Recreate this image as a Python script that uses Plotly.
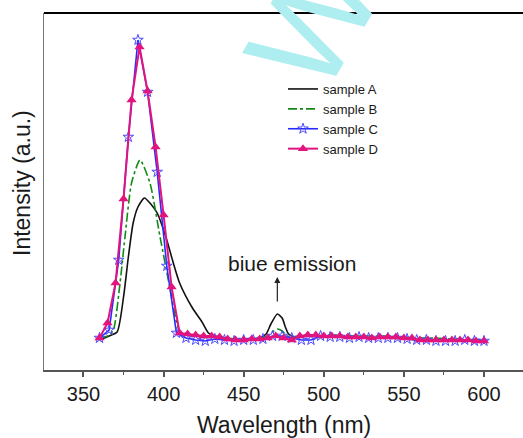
import plotly.graph_objects as go

# Emission spectra, intensity in arbitrary units
wl_a = [360, 366, 371, 375, 378, 381, 384, 388, 392, 396, 402, 405, 410, 418, 424, 428,
        432, 436, 440, 445, 450, 455, 460, 464, 467, 471, 474, 476, 478, 482, 490,
        500, 510, 520, 530, 540, 550, 560, 570, 580, 590, 600]
int_a = [30, 34, 38, 73, 113, 147, 163, 172, 166, 157, 130, 113, 87, 62, 48, 37,
         34, 33, 31, 30, 30, 31, 32, 36, 46, 56, 52, 43, 36, 33, 34,
         33, 33, 32, 32, 32, 31, 30, 30, 30, 29, 29]

wl_b = [360, 365, 368.6, 372.8, 375.9, 380, 385.3, 391.5, 397.8, 405, 408.2, 411,
        415, 420, 425, 430, 435, 440, 445, 450, 455, 460, 465, 468, 471, 474, 477,
        480, 485, 490, 495, 500, 510, 520, 530, 540, 550, 560, 570, 580, 590, 600]
int_b = [32, 34, 40, 87, 133, 187, 210, 187, 133, 73, 47, 36,
         35, 34, 34, 33, 33, 32, 31, 31, 31, 32, 34, 38, 41, 39, 34,
         33, 34, 35, 35, 35, 35, 34, 34, 34, 33, 32, 32, 31, 31, 30]

wl_c = list(range(360, 601, 6))
int_c = [32, 40, 110, 233, 330, 278, 198, 104, 37, 32, 30, 29, 31, 30, 29, 30,
         30, 31, 34, 34, 32, 30, 30, 34, 33, 33, 32, 33, 32, 32, 32, 32, 31, 30,
         30, 29, 29, 29, 30, 29, 29]

wl_d = list(range(360, 601, 5))
int_d = [32, 47, 87, 171, 270, 323, 279, 223, 155, 83, 37,
         36, 35, 34, 34, 33, 31, 30, 30, 31, 31, 32, 34, 32, 30, 34, 35, 35,
         34, 34, 34, 33, 33, 33, 32, 33, 33, 33, 32, 32, 30, 30, 30, 30, 30,
         30, 30, 29, 29]

series_names = ["sample A", "sample B", "sample C", "sample D"]
x_ticks = [350, 400, 450, 500, 550, 600]
x_minor_ticks = [375, 425, 475, 525, 575]

FONT = "Liberation Sans, Arial, sans-serif"
W, H = 523, 438
ML, MR, MT, MB = 44, 0, 13, 68
PW, PH = W - ML - MR, H - MT - MB
X_RANGE = [325.35, 624.35]
Y_RANGE = [0, 357]


def px_x(px):
    return (px - ML) / PW


def px_y(py):
    return (H - MB - py) / PH


fig = go.Figure()
fig.add_trace(go.Scatter(x=wl_a, y=int_a, name=series_names[0], mode="lines",
                         line=dict(color="#111111", width=1.6, shape="spline", smoothing=0.6)))
fig.add_trace(go.Scatter(x=wl_b, y=int_b, name=series_names[1], mode="lines",
                         line=dict(color="#138a13", width=1.6, dash="dashdot",
                                   shape="spline", smoothing=0.6)))
fig.add_trace(go.Scatter(x=wl_c, y=int_c, name=series_names[2], mode="lines+markers",
                         line=dict(color="#2a2aff", width=1.6),
                         marker=dict(symbol="star-open", size=8, color="#4a4aff",
                                     line=dict(width=1))))
fig.add_trace(go.Scatter(x=wl_d, y=int_d, name=series_names[3], mode="lines+markers",
                         line=dict(color="#e2147e", width=2),
                         marker=dict(symbol="triangle-up", size=9, color="#e2147e")))

# top frame line
fig.add_shape(type="line", xref="paper", yref="paper", x0=0, x1=1, y0=1, y1=1,
              line=dict(color="black", width=2))

annotations = [
    # watermark letter
    dict(text="W", xref="paper", yref="paper", x=px_x(313), y=px_y(22),
         xanchor="center", yanchor="middle", showarrow=False, textangle=-60,
         font=dict(family=FONT, size=135, color="#aeeef1")),
    dict(text="biue emission", x=480.4, y=107, xref="x", yref="y", showarrow=False,
         font=dict(family=FONT, size=21, color="#1a1a1a")),
    dict(text="", x=471, y=93, xref="x", yref="y", ax=0, ay=26, showarrow=True,
         arrowhead=2, arrowsize=1, arrowwidth=1.2, arrowcolor="#222"),
    dict(text="Wavelength (nm)", xref="paper", yref="paper", x=0.5, y=px_y(425),
         showarrow=False, yanchor="middle",
         font=dict(family=FONT, size=23, color="#1a1a1a")),
    dict(text="Intensity (a.u.)", xref="paper", yref="paper", x=px_x(22), y=px_y(183),
         showarrow=False, textangle=-90, xanchor="center", yanchor="middle",
         font=dict(family=FONT, size=23, color="#1a1a1a")),
]

fig.update_layout(
    width=W, height=H,
    margin=dict(l=ML, r=MR, t=MT, b=MB),
    paper_bgcolor="white", plot_bgcolor="white",
    font=dict(family=FONT, color="#1a1a1a"),
    showlegend=True,
    legend=dict(x=px_x(283), y=px_y(74), xanchor="left", yanchor="top",
                bgcolor="rgba(0,0,0,0)",
                font=dict(family=FONT, size=13, color="#1a1a1a"),
                tracegroupgap=0, itemwidth=30),
    annotations=annotations,
    xaxis=dict(range=X_RANGE, showgrid=False, zeroline=False,
               showline=True, linecolor="#555555", linewidth=1.5,
               ticks="outside", ticklen=5, tickwidth=1.5, tickcolor="#555555",
               tickvals=x_ticks, ticklabelstandoff=0,
               tickfont=dict(family=FONT, size=20, color="#1a1a1a"),
               minor=dict(ticks="outside", ticklen=3, tickwidth=1.2,
                          tickcolor="#555555", tickvals=x_minor_ticks)),
    yaxis=dict(range=Y_RANGE, showgrid=False, zeroline=False,
               showline=True, linecolor="#777777", linewidth=1,
               ticks="", showticklabels=False),
)

fig.write_html("out.html")
